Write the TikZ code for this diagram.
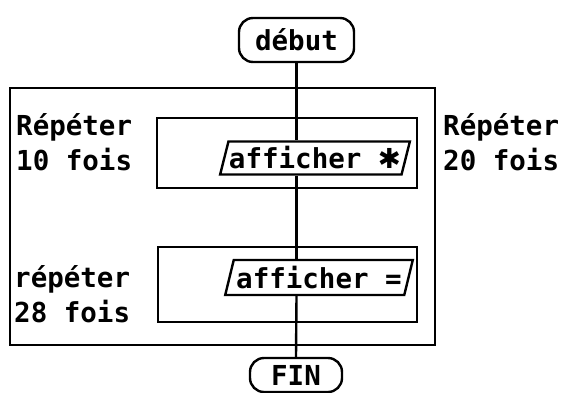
\documentclass[tikz,border=0pt]{standalone}
\usepackage{fontspec}
\setmonofont{DejaVu Sans Mono}
\newfontfamily\symfont{DejaVu Sans}
\usetikzlibrary{shapes.geometric}
\begin{document}
\begin{tikzpicture}[x=1pt,y=-1pt,
  every node/.style={font=\ttfamily\bfseries\fontsize{27.5}{35}\selectfont, inner sep=0pt},
  term/.style={draw, line width=2.4pt, rounded corners=14pt},
  loopbox/.style={draw, line width=2.4pt, rectangle},
  io/.style={draw, line width=2.4pt, trapezium, trapezium left angle=70, trapezium right angle=110, trapezium stretches=true},
  lbl/.style={align=left, anchor=base west},
  flow/.style={line width=2.4pt}]
\useasboundingbox (0,0) rectangle (561,392);
\node[term, minimum width=115pt, minimum height=44pt] (debut) at (296.5,40) {d\'ebut};
\node[loopbox, minimum width=425pt, minimum height=257pt] (outer) at (222.5,216.5) {};
\node[loopbox, minimum width=260pt, minimum height=70pt] (in1) at (287,153) {};
\node[loopbox, minimum width=259pt, minimum height=75pt] (in2) at (287.5,284.5) {};
\node[io, fill=white, minimum width=190pt, minimum height=33pt] (p1) at (315,158) {afficher {\symfont ✱}};
\node[io, fill=white, minimum width=188pt, minimum height=35pt] (p2) at (319,277.5) {afficher =};
\node[term, minimum width=92pt, minimum height=34pt] (fin) at (296,375) {FIN};
\node[lbl] (l1) at (16,170) {Répéter\\10 fois};
\node[lbl] (l2) at (443,170) {Répéter\\20 fois};
\node[lbl] (l3) at (14,322) {répéter\\28 fois};
\draw[flow] (debut.south) -- (debut.south |- p1.north);
\draw[flow] (debut.south |- p1.south) -- (debut.south |- p2.north);
\draw[flow] (debut.south |- p2.south) -- (fin.north);
\end{tikzpicture}
\end{document}
